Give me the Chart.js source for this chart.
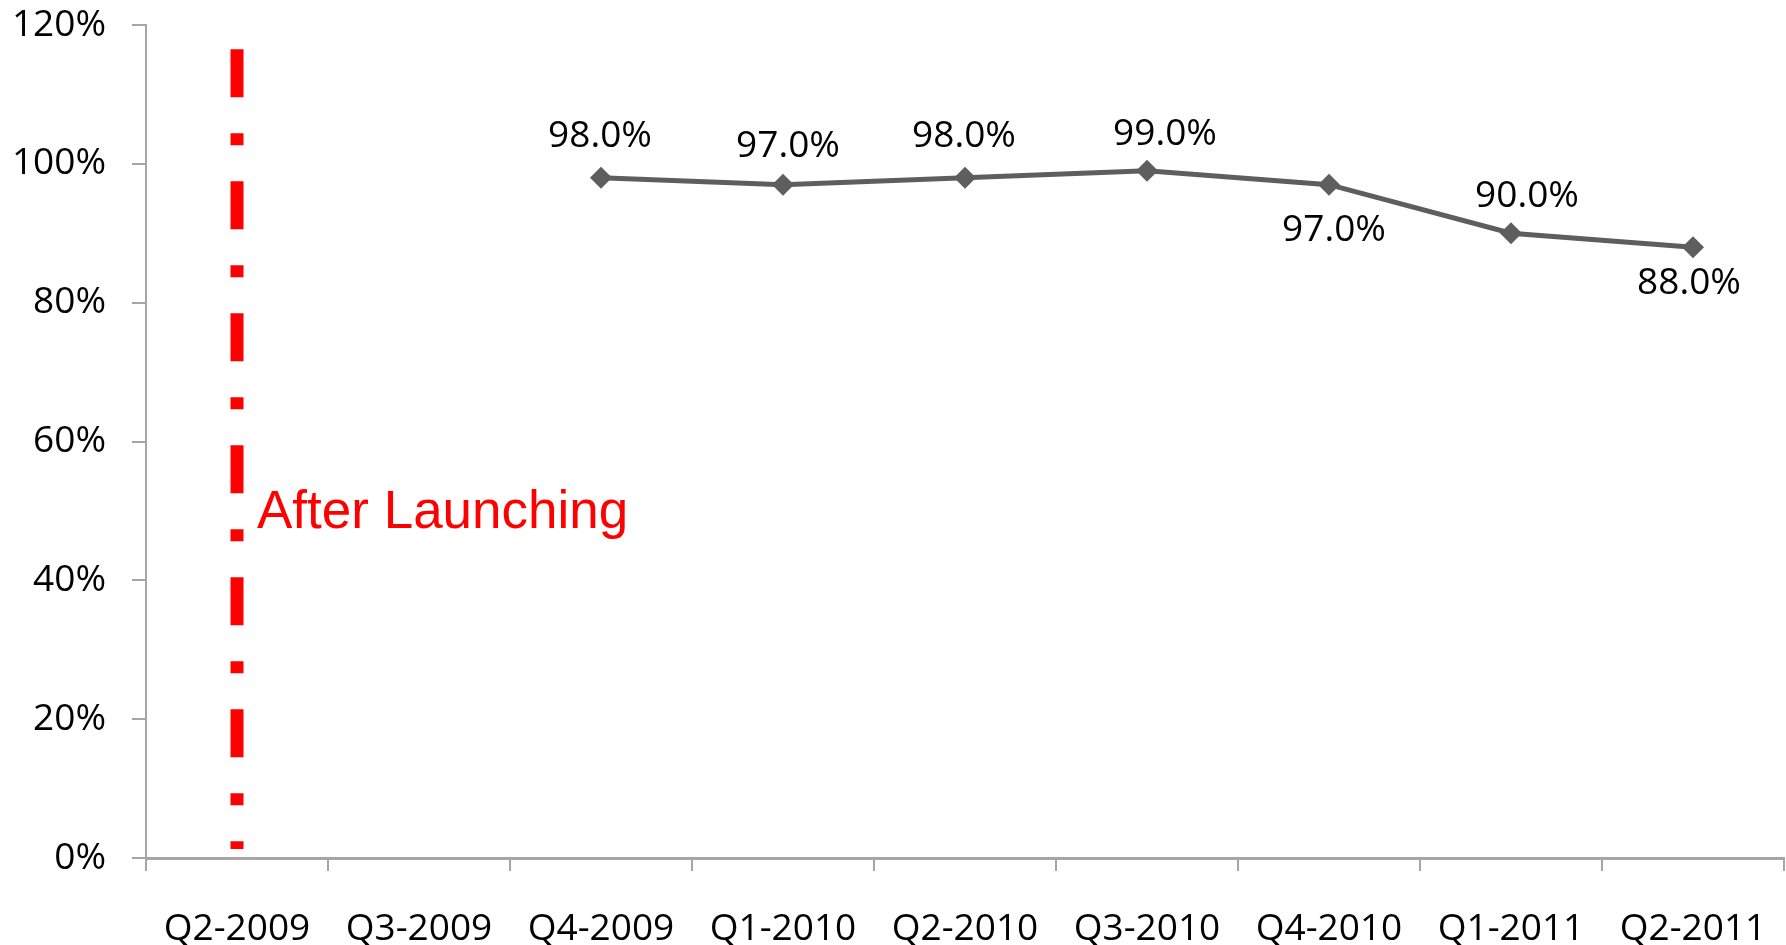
<!DOCTYPE html>
<html>
<head>
<meta charset="utf-8">
<title>Quarterly rate</title>
<script src="https://cdn.jsdelivr.net/npm/chart.js@4.4.1/dist/chart.umd.min.js"></script>
<style>
    html, body { margin: 0; padding: 0; background: #fff; }
    #wrap { width: 1786px; height: 945px; }
</style>
</head>
<body>
<div id="wrap"><canvas id="chart"></canvas></div>
<script>
// ==================== DATOS ====================

const quarters   = ['Q2-2009', 'Q3-2009', 'Q4-2009', 'Q1-2010', 'Q2-2010', 'Q3-2010', 'Q4-2010', 'Q1-2011', 'Q2-2011'];
const rateValues = [null, null, 98, 97, 98, 99, 97, 90, 88];
const yTickStep  = 20;
const yMax       = 120;

// línea vertical de lanzamiento (valores en %)
const launchQuarter = 'Q2-2009';
const launchRange   = [116.5, 1.3];
const launchText    = 'After Launching';

// ==================== ESTILOS ====================

const FONT_TXT  = '"Open Sans", "DejaVu Sans", sans-serif';
const AXIS_GRAY = '#a6a6a6';
const LINE_GRAY = '#5e5e5e';
const RED       = '#ff0000';

// ── Plugin: etiquetas de valor sobre/bajo cada punto ────────
// offsets [dx, dy] hasta la línea base del texto
const valueLabels = {
    id: 'valueLabels',
    afterDatasetsDraw(chart, args, opts) {
        const meta = chart.getDatasetMeta(0);
        const ctx = chart.ctx;
        ctx.save();
        ctx.font = '37px ' + FONT_TXT;
        ctx.fillStyle = '#000';
        ctx.textAlign = 'center';
        ctx.textBaseline = 'alphabetic';
        meta.data.forEach((pt, i) => {
            const v = rateValues[i];
            if (v == null) return;
            const [dx, dy] = opts.offsets[i];
            ctx.fillText(v.toFixed(1) + '%', pt.x + dx, pt.y + dy);
        });
        ctx.restore();
    }
};

// ── Plugin: texto "After Launching" junto a la línea roja ───
const launchLabel = {
    id: 'launchLabel',
    afterDatasetsDraw(chart, args, opts) {
        const x = chart.scales.x.getPixelForValue(quarters.indexOf(launchQuarter)) + opts.dx;
        const y = chart.scales.y.getPixelForValue(opts.atValue);
        const ctx = chart.ctx;
        ctx.save();
        ctx.font = '53px "Liberation Sans", Arial, sans-serif';
        ctx.fillStyle = RED;
        ctx.textAlign = 'left';
        ctx.textBaseline = 'alphabetic';
        ctx.fillText(launchText, x, y);
        ctx.restore();
    }
};

new Chart(document.getElementById('chart'), {
    type: 'line',
    data: {
        labels: quarters,
        datasets: [
            {
                data: rateValues,
                borderColor: LINE_GRAY,
                backgroundColor: LINE_GRAY,
                borderWidth: 5,
                tension: 0,
                pointStyle: 'rectRot',
                pointRadius: 11,
                pointBorderWidth: 0,
            },
            {
                data: launchRange.map(v => ({ x: launchQuarter, y: v })),
                borderColor: RED,
                borderWidth: 13,
                borderDash: [48, 36, 12, 36],
                borderCapStyle: 'butt',
                pointRadius: 0,
            }
        ]
    },
    options: {
        responsive: true,
        maintainAspectRatio: false,
        animation: false,
        layout: { autoPadding: false, padding: { top: 25, right: 2, left: 0, bottom: 0 } },
        plugins: {
            legend: { display: false },
            tooltip: { enabled: false },
            valueLabels: {
                offsets: [null, null, [-1, -31], [5, -28], [-1, -31], [18, -26], [5, 56], [16, -26], [-4, 47]]
            },
            launchLabel: { dx: 20, atValue: 47.6 }
        },
        scales: {
            x: {
                offset: true,
                grid: {
                    offset: true,
                    drawOnChartArea: false,
                    drawTicks: true,
                    tickLength: 13,
                    color: AXIS_GRAY,
                    lineWidth: 2,
                },
                border: { color: AXIS_GRAY, width: 3 },
                ticks: {
                    font: { family: FONT_TXT, size: 37 },
                    color: '#000',
                    padding: 36,
                    maxRotation: 0,
                    autoSkip: false,
                },
                afterFit: s => {
                    s.height = 87;
                    s.paddingLeft = 0;
                    s.paddingRight = 0;
                }
            },
            y: {
                min: 0,
                max: yMax,
                grid: {
                    drawOnChartArea: false,
                    drawTicks: true,
                    tickLength: 14,
                    color: AXIS_GRAY,
                    lineWidth: 2,
                },
                border: { color: AXIS_GRAY, width: 2 },
                ticks: {
                    stepSize: yTickStep,
                    font: { family: FONT_TXT, size: 37 },
                    color: '#000',
                    padding: 26,
                    callback: v => v + '%'
                },
                afterFit: s => {
                    s.width = 146;
                    s.paddingTop = 0;
                    s.paddingBottom = 0;
                }
            }
        }
    },
    plugins: [valueLabels, launchLabel]
});
</script>
</body>
</html>
